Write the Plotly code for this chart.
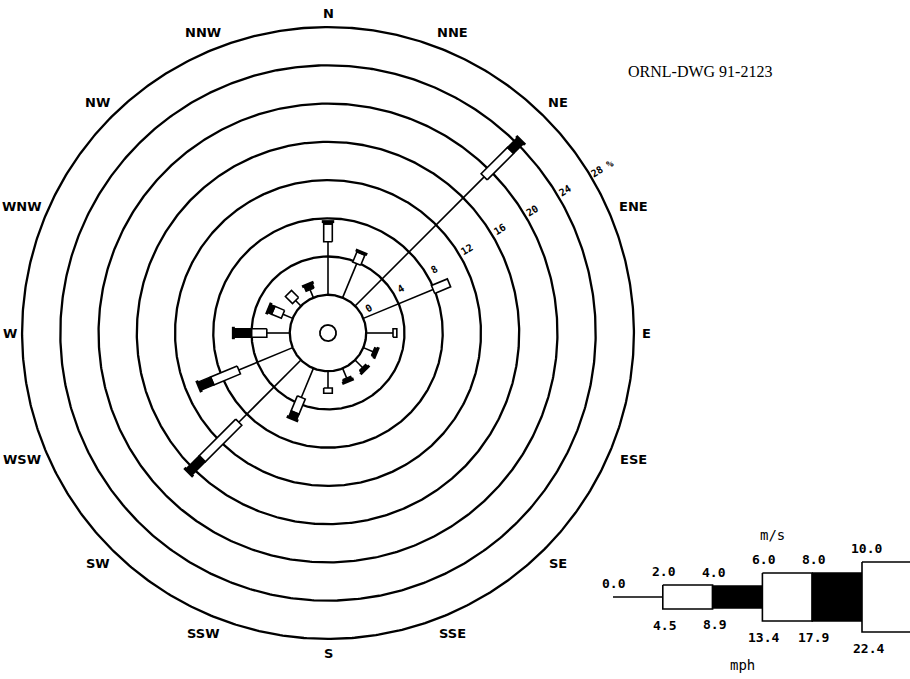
import numpy as np
import plotly.graph_objects as go

# ---------------- data ----------------
directions = ["N", "NNE", "NE", "ENE", "E", "ESE", "SE", "SSE",
              "S", "SSW", "SW", "WSW", "W", "WNW", "NW", "NNW"]
bearings = [i * 22.5 for i in range(16)]
# cumulative frequency (%) at the top of each wind-speed class
cum_0_2 = [5.55, 3.85, 19.1, 7.9, 2.8, 1.1, 1.1, 1.1, 1.75, 3.3, 9.2, 6.1, 2.4, 1.1, 0.8, 0.9]
cum_2_4 = [7.4, 5.0, 23.0, 9.7, 3.2, 1.1, 1.1, 1.1, 2.3, 5.0, 14.6, 9.1, 4.0, 2.2, 1.85, 0.9]
cum_4_6 = [7.65, 5.15, 24.5, 9.7, 3.2, 1.45, 1.45, 1.45, 2.3, 5.7, 16.6, 10.6, 5.9, 2.7, 1.85, 1.5]

ring_pcts = [0, 4, 8, 12, 16, 20, 24, 28]
ring_labels = ["0", "4", "8", "12", "16", "20", "24", "28 %"]

speed_ms = [0.0, 2.0, 4.0, 6.0, 8.0, 10.0]
speed_ms_labels = ["0.0", "2.0", "4.0", "6.0", "8.0", "10.0"]
speed_mph_labels = ["", "4.5", "8.9", "13.4", "17.9", "22.4"]

drawing_id = "ORNL-DWG 91-2123"

# ---------------- geometry / style ----------------
OFF = 4.0            # radius offset (inner circle = 0 %)
PX = 9.56            # pixels per unit on the main axes
CX, CY = 328, 333    # centre of the rose in pixels
W, H = 910, 679
NARROW = 0.45        # half width of narrow boxes (units)
CAP = 0.65           # half width of end caps (units)
LBL_BEARING = 59.0   # bearing of the ring labels
FONT_PLOT = "DejaVu Sans Mono"


def unit(b):
    t = np.radians(b)
    return np.sin(t), np.cos(t), np.cos(t), -np.sin(t)


def box(b, p1, p2, hw):
    ux, uy, vx, vy = unit(b)
    r1, r2 = p1 + OFF, p2 + OFF
    xs = [r1 * ux + hw * vx, r2 * ux + hw * vx, r2 * ux - hw * vx, r1 * ux - hw * vx, r1 * ux + hw * vx]
    ys = [r1 * uy + hw * vy, r2 * uy + hw * vy, r2 * uy - hw * vy, r1 * uy - hw * vy, r1 * uy + hw * vy]
    return xs, ys


fig = go.Figure()

# rings
t = np.linspace(0, 2 * np.pi, 721)
rx, ry = [], []
for p in ring_pcts:
    r = p + OFF
    rx += list(r * np.sin(t)) + [None]
    ry += list(r * np.cos(t)) + [None]
fig.add_trace(go.Scatter(x=rx, y=ry, mode="lines", line=dict(color="black", width=2.3),
                         hoverinfo="skip"))
# centre circle
fig.add_trace(go.Scatter(x=0.85 * np.sin(t), y=0.85 * np.cos(t), mode="lines",
                         line=dict(color="black", width=1.8), hoverinfo="skip"))

# 0-2 m/s lines
lx, ly = [], []
for b, p in zip(bearings, cum_0_2):
    ux, uy, _, _ = unit(b)
    lx += [OFF * ux, (p + OFF) * ux, None]
    ly += [OFF * uy, (p + OFF) * uy, None]
fig.add_trace(go.Scatter(x=lx, y=ly, mode="lines", line=dict(color="black", width=1.6),
                         hoverinfo="skip"))

# 2-4 m/s white boxes
wx, wy = [], []
for b, p1, p2 in zip(bearings, cum_0_2, cum_2_4):
    if p2 - p1 > 0.01:
        xs, ys = box(b, p1, p2, NARROW)
        wx += xs + [None]
        wy += ys + [None]
fig.add_trace(go.Scatter(x=wx, y=wy, mode="lines", fill="toself", fillcolor="white",
                         line=dict(color="black", width=1.6), hoverinfo="skip"))

# 4-6 m/s black boxes with end caps
bx, by, cx_, cy_ = [], [], [], []
for b, p1, p2 in zip(bearings, cum_2_4, cum_4_6):
    if p2 - p1 > 0.01:
        xs, ys = box(b, p1, p2, NARROW)
        bx += xs + [None]
        by += ys + [None]
        ux, uy, vx, vy = unit(b)
        r2 = p2 + OFF
        cx_ += [r2 * ux + CAP * vx, r2 * ux - CAP * vx, None]
        cy_ += [r2 * uy + CAP * vy, r2 * uy - CAP * vy, None]
fig.add_trace(go.Scatter(x=bx, y=by, mode="lines", fill="toself", fillcolor="black",
                         line=dict(color="black", width=1.4), hoverinfo="skip"))
fig.add_trace(go.Scatter(x=cx_, y=cy_, mode="lines", line=dict(color="black", width=3),
                         hoverinfo="skip"))

annotations = []
# ring labels
ux, uy, _, _ = unit(LBL_BEARING)
for p, lab in zip(ring_pcts, ring_labels):
    r = p + OFF + 0.95 + (0.5 if "%" in lab else 0)
    annotations.append(dict(x=r * ux, y=r * uy, xref="x", yref="y", text=lab, showarrow=False,
                            textangle=-(90 - LBL_BEARING),
                            font=dict(family=FONT_PLOT, size=10, color="black", weight="bold")))

# direction labels: centred just outside the outer ring
for b, name in zip(bearings, directions):
    ux, uy, _, _ = unit(b)
    hw, hh = 5.5 * len(name), 7.0
    rc = (313 + hw * abs(ux) + hh * abs(uy)) / PX
    annotations.append(dict(x=rc * ux, y=rc * uy, xref="x", yref="y", text=name,
                            showarrow=False, xanchor="center", yanchor="middle",
                            font=dict(family="DejaVu Sans", size=13, color="black",
                                      weight="bold")))

# ---------------- speed legend (second axes, m/s by pixels) ----------------
L_X0 = 613        # pixel of 0 m/s
L_PX = 24.9       # pixels per m/s
L_Y0 = 597        # pixel row of legend centre line
half = [0, 12, 11, 24, 24, 35]   # half heights (px) of the class boxes
fills = ["none", "white", "black", "white", "black", "white"]

# line 0-2
fig.add_trace(go.Scatter(x=[speed_ms[0], speed_ms[1]], y=[0, 0], xaxis="x2", yaxis="y2",
                         mode="lines", line=dict(color="black", width=1.6), hoverinfo="skip"))
bounds = speed_ms + [speed_ms[-1] + 3.0]
for i in range(1, len(speed_ms)):
    a, c, h = bounds[i], bounds[i + 1], half[i]
    fig.add_trace(go.Scatter(x=[a, c, c, a, a], y=[h, h, -h, -h, h], xaxis="x2", yaxis="y2",
                             mode="lines", fill="toself", fillcolor=fills[i],
                             line=dict(color="black", width=1.6), hoverinfo="skip"))

for i, s in enumerate(speed_ms):
    dx = 0.2 if i == 5 else 0.06
    annotations.append(dict(x=s + dx, y=half[i] + 14, xref="x2", yref="y2",
                            text=speed_ms_labels[i], showarrow=False,
                            font=dict(family=FONT_PLOT, size=13, color="black", weight="bold")))
    if speed_mph_labels[i]:
        annotations.append(dict(x=s + (0.25 if i == 5 else 0.06), y=-half[i] - 16,
                                xref="x2", yref="y2", text=speed_mph_labels[i], showarrow=False,
                                font=dict(family=FONT_PLOT, size=13, color="black",
                                          weight="bold")))
annotations.append(dict(x=6.4, y=62, xref="x2", yref="y2", text="m/s", showarrow=False,
                        font=dict(family=FONT_PLOT, size=14, color="black")))
annotations.append(dict(x=5.2, y=-68, xref="x2", yref="y2", text="mph", showarrow=False,
                        font=dict(family=FONT_PLOT, size=14, color="black")))

annotations.append(dict(x=700 / W, y=1 - 72 / H, xref="paper", yref="paper", text=drawing_id,
                        showarrow=False, xanchor="center", yanchor="middle",
                        font=dict(family="Liberation Serif", size=16, color="black")))

xr = [-CX / PX, (W - CX) / PX]
yr = [-(H - CY) / PX, CY / PX]
fig.update_layout(
    width=W, height=H, margin=dict(l=0, r=0, t=0, b=0),
    paper_bgcolor="white", plot_bgcolor="white", showlegend=False,
    xaxis=dict(range=xr, visible=False, domain=[0, 1], fixedrange=True),
    yaxis=dict(range=yr, visible=False, domain=[0, 1], fixedrange=True),
    xaxis2=dict(range=[-L_X0 / L_PX, (W - L_X0) / L_PX], visible=False, domain=[0, 1],
                overlaying="x", anchor="y2"),
    yaxis2=dict(range=[-(H - L_Y0), L_Y0], visible=False, domain=[0, 1],
                overlaying="y", anchor="x2"),
    annotations=annotations,
)
fig.write_html("out.html")
